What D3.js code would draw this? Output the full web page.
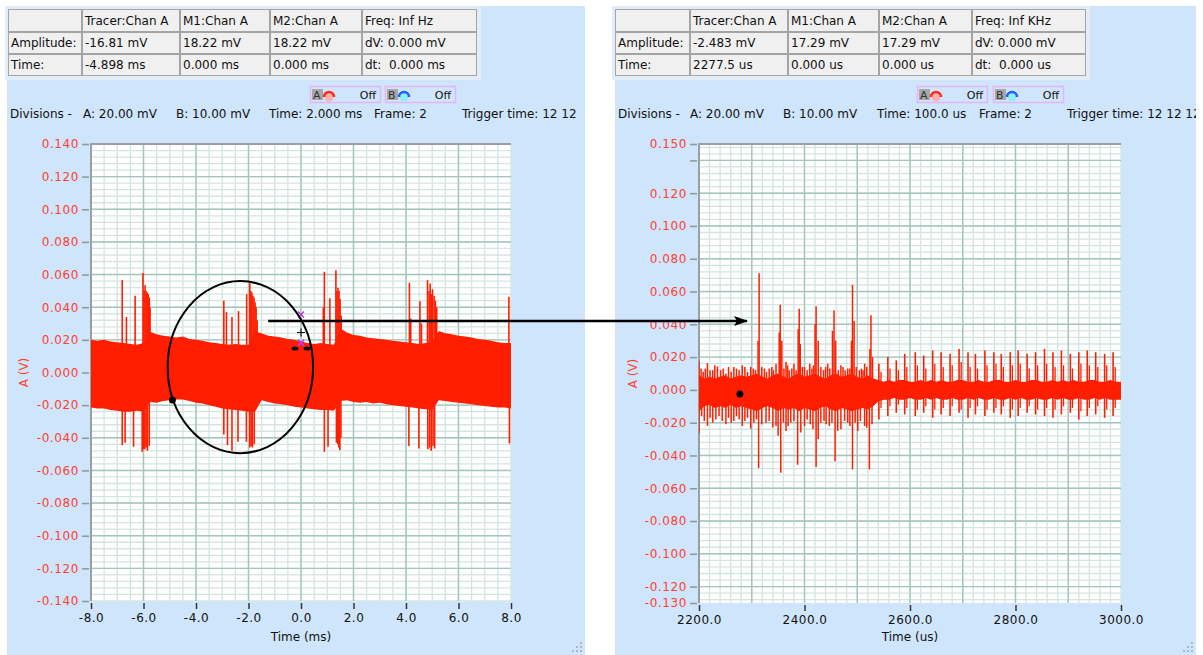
<!DOCTYPE html>
<html>
<head>
<meta charset="utf-8">
<script src="https://cdn.jsdelivr.net/npm/d3@7"></script>
<style>
  body { margin: 0; background: #ffffff; }
  text { font-family: "DejaVu Sans", Verdana, sans-serif; }
</style>
</head>
<body>
<svg id="chart" width="1203" height="655"></svg>
<script>

// left screen: envelope of the noise band, one value every 0.25 ms from -8 ms
var leftStart = -8, leftStep = 0.25;
var leftHi = [0.0200,0.0195,0.0200,0.0190,0.0185,0.0180,0.0175,0.0170,0.0180,0.0250,
              0.0235,0.0225,0.0220,0.0215,0.0220,0.0205,0.0200,0.0195,0.0185,0.0180,
              0.0175,0.0170,0.0175,0.0170,0.0170,0.0250,0.0240,0.0225,0.0220,0.0215,
              0.0205,0.0200,0.0190,0.0180,0.0175,0.0180,0.0175,0.0170,0.0270,0.0245,
              0.0230,0.0225,0.0215,0.0210,0.0205,0.0200,0.0195,0.0190,0.0185,0.0180,
              0.0175,0.0180,0.0190,0.0255,0.0240,0.0235,0.0225,0.0220,0.0215,0.0205,
              0.0200,0.0195,0.0185,0.0180,0.0180];
var leftLo = [-0.0215,-0.0220,-0.0220,-0.0230,-0.0235,-0.0240,-0.0240,-0.0235,-0.0240,-0.0180,
              -0.0185,-0.0175,-0.0170,-0.0165,-0.0165,-0.0175,-0.0185,-0.0190,-0.0200,-0.0210,
              -0.0220,-0.0225,-0.0230,-0.0235,-0.0240,-0.0240,-0.0170,-0.0180,-0.0190,-0.0195,
              -0.0200,-0.0210,-0.0215,-0.0220,-0.0225,-0.0230,-0.0230,-0.0235,-0.0175,-0.0170,
              -0.0180,-0.0185,-0.0180,-0.0190,-0.0185,-0.0195,-0.0200,-0.0205,-0.0210,-0.0215,
              -0.0220,-0.0225,-0.0230,-0.0170,-0.0175,-0.0180,-0.0185,-0.0190,-0.0195,-0.0200,
              -0.0205,-0.0210,-0.0215,-0.0215,-0.0220];

// left screen: spikes above and below the band (ms, V)
var leftUpT = [-6.81,-6.65,-6.32,-6.02,-5.98,-5.94,-5.90,-5.86,-5.82,-5.78,-5.75,
               -2.94,-2.84,-2.63,-2.38,-2.07,-1.95,-1.91,-1.87,-1.83,-1.79,-1.75,-1.71,-1.67,
               0.85,0.89,1.10,1.33,1.37,1.41,1.45,1.49,1.53,
               4.13,4.18,4.53,4.59,4.82,4.88,4.92,4.97,5.01,5.07,5.12,5.17,7.92];
var leftUpV = [0.0566,0.034,0.047,0.061,0.050,0.0535,0.050,0.049,0.048,0.046,0.040,
               0.044,0.037,0.034,0.0376,0.048,0.0547,0.050,0.049,0.047,0.046,0.043,0.040,0.032,
               0.040,0.0617,0.0455,0.0627,0.050,0.052,0.050,0.045,0.035,
               0.055,0.033,0.0437,0.030,0.0566,0.050,0.0545,0.048,0.051,0.047,0.044,0.040,0.0464];
var leftDnT = [-6.81,-6.70,-6.38,-6.05,-6.00,-5.95,-5.90,-5.85,-5.78,
               -2.94,-2.80,-2.63,-2.40,-2.08,-1.95,-1.90,-1.85,-1.78,
               0.89,1.03,1.35,1.40,1.44,1.48,1.52,
               4.11,4.49,4.83,4.90,4.96,5.03,5.09,7.94];
var leftDnV = [-0.0445,-0.043,-0.0455,-0.0486,-0.047,-0.047,-0.046,-0.048,-0.045,
               -0.038,-0.0445,-0.048,-0.0425,-0.0425,-0.046,-0.045,-0.046,-0.044,
               -0.0486,-0.0455,-0.043,-0.044,-0.046,-0.0476,-0.040,
               -0.045,-0.0466,-0.047,-0.046,-0.048,-0.045,-0.0466,-0.0435];

// right screen: envelope of the solid core, one value every 10 us from 2200 us
var rightStart = 2200, rightStep = 10;
var rightHi = [0.009,0.007,0.008,0.007,0.008,0.009,0.007,0.008,0.009,0.008,
               0.009,0.010,0.008,0.007,0.009,0.010,0.008,0.007,0.009,0.010,
               0.008,0.009,0.010,0.008,0.007,0.009,0.010,0.008,0.009,0.010,
               0.008,0.007,0.009,0.007,0.006,0.005,0.006,0.005,0.006,0.006,
               0.005,0.005,0.006,0.005,0.006,0.005,0.006,0.005,0.005,0.006,
               0.006,0.005,0.005,0.006,0.005,0.005,0.006,0.006,0.005,0.005,
               0.006,0.005,0.005,0.006,0.006,0.005,0.005,0.006,0.005,0.006,
               0.005,0.006,0.005,0.005,0.006,0.006,0.005,0.005,0.006,0.005,0.005];
var rightLo = [-0.013,-0.010,-0.009,-0.011,-0.010,-0.011,-0.009,-0.011,-0.010,-0.011,
               -0.012,-0.013,-0.011,-0.010,-0.011,-0.013,-0.011,-0.012,-0.011,-0.013,
               -0.011,-0.012,-0.013,-0.011,-0.010,-0.012,-0.013,-0.011,-0.012,-0.013,
               -0.012,-0.011,-0.012,-0.010,-0.007,-0.006,-0.006,-0.005,-0.006,-0.006,
               -0.005,-0.006,-0.006,-0.005,-0.006,-0.005,-0.006,-0.006,-0.005,-0.006,
               -0.006,-0.005,-0.006,-0.005,-0.006,-0.006,-0.005,-0.006,-0.006,-0.005,
               -0.006,-0.005,-0.006,-0.006,-0.005,-0.006,-0.006,-0.005,-0.006,-0.005,
               -0.006,-0.006,-0.005,-0.006,-0.006,-0.005,-0.006,-0.005,-0.006,-0.006,-0.006];

// right screen: individual spikes in the first burst (us, V)
var rightUpT = [2200,2204,2208,2212,2216,2221,2226,2230,2235,2241,2246,2251,2256,2261,2266,2271,2276,
                2282,2287,2292,2298,2303,2307,2312,2314,2319,2324,2328,2333,2338,2341,2346,
                2352,2354,2357,2361,2365,2368,2371,2376,2380,2384,2388,2390,2392,2396,2400,2405,
                2410,2414,2417,2420,2422,2426,2431,2436,2440,2444,2448,2453,2456,2459,2464,2469,
                2473,2477,2482,2486,2489,2491,2494,2498,2504,2508,2511,2514,2518,2524,2526,2529];
var rightUpV = [0.0174,0.013,0.011,0.013,0.0163,0.012,0.012,0.015,0.0143,0.012,0.013,0.010,0.014,0.011,0.014,0.013,0.012,
                0.015,0.014,0.011,0.014,0.013,0.012,0.030,0.0712,0.014,0.013,0.011,0.013,0.014,0.012,0.016,
                0.035,0.052,0.030,0.013,0.017,0.015,0.012,0.013,0.016,0.012,0.037,0.0495,0.028,0.014,0.014,0.012,
                0.016,0.013,0.015,0.040,0.051,0.030,0.014,0.012,0.014,0.016,0.013,0.036,0.0485,0.030,0.012,0.015,
                0.014,0.012,0.013,0.013,0.030,0.064,0.042,0.014,0.012,0.013,0.012,0.016,0.014,0.025,0.0456,0.020];
var rightDnT = [2200,2205,2210,2216,2221,2226,2232,2238,2244,2251,2256,2261,2266,2271,2276,2282,2287,2292,
                2298,2304,2309,2313,2319,2327,2333,2340,2346,2350,2355,2360,2365,2369,2374,2380,2387,
                2393,2400,2405,2411,2416,2422,2426,2431,2437,2441,2447,2452,2458,2463,2469,2476,2482,
                2486,2491,2496,2501,2506,2514,2518,2523,2528];
var rightDnV = [-0.0266,-0.016,-0.019,-0.022,-0.017,-0.020,-0.018,-0.016,-0.019,-0.021,-0.017,-0.020,-0.019,-0.016,-0.018,-0.022,-0.019,-0.017,
                -0.0236,-0.020,-0.018,-0.0477,-0.021,-0.020,-0.019,-0.023,-0.022,-0.028,-0.0506,-0.020,-0.025,-0.022,-0.020,-0.019,-0.0457,
                -0.026,-0.022,-0.018,-0.021,-0.024,-0.047,-0.030,-0.020,-0.019,-0.021,-0.022,-0.020,-0.0436,-0.025,-0.024,-0.019,-0.020,
                -0.022,-0.0485,-0.020,-0.025,-0.019,-0.022,-0.023,-0.0485,-0.021];

// right screen: the regular pulse train after the burst (us, V)
var rightPulseT  = [2541,2558,2574,2590,2610,2626,2643,2659,2676,2693,2710,2724,2742,2759,
                    2773,2790,2805,2822,2838,2855,2871,2887,2904,2920,2936,2952,2969,2985];
var rightPulseHi = [0.016,0.020,0.018,0.022,0.023,0.021,0.024,0.023,0.022,0.025,0.023,0.022,0.024,0.023,
                    0.022,0.023,0.024,0.022,0.023,0.025,0.023,0.024,0.022,0.023,0.024,0.023,0.022,0.023];
var rightPulseLo = [-0.018,-0.016,-0.014,-0.015,-0.016,-0.014,-0.017,-0.015,-0.016,-0.014,-0.017,-0.015,-0.016,-0.014,
                    -0.015,-0.017,-0.016,-0.014,-0.015,-0.016,-0.017,-0.015,-0.014,-0.018,-0.016,-0.015,-0.017,-0.016];
var rightSubT  = [2545,2562,2578,2594,2614,2630,2647,2663,2680,2697,2714,2728,2746,2763,
                  2777,2794,2809,2826,2842,2859,2875,2891,2908,2924,2940,2956,2973,2989];
var rightSubHi = [0.011,0.013,0.012,0.014,0.015,0.013,0.016,0.014,0.015,0.017,0.014,0.013,0.015,0.016,
                  0.014,0.015,0.016,0.013,0.015,0.016,0.014,0.015,0.013,0.016,0.015,0.014,0.015,0.014];
var rightSubLo = [-0.011,-0.010,-0.009,-0.011,-0.012,-0.010,-0.012,-0.011,-0.010,-0.012,-0.011,-0.010,-0.012,-0.011,
                  -0.010,-0.012,-0.011,-0.010,-0.012,-0.011,-0.012,-0.010,-0.011,-0.013,-0.011,-0.010,-0.012,-0.011];

// tick values
var leftXTicks = [-8, -6, -4, -2, 0, 2, 4, 6, 8];
var leftYTicks = [0.14, 0.12, 0.10, 0.08, 0.06, 0.04, 0.02, 0, -0.02, -0.04, -0.06, -0.08, -0.10, -0.12, -0.14];
var rightXTicks = [2200, 2400, 2600, 2800, 3000];
var rightYTicks = [0.15, 0.14, 0.12, 0.10, 0.08, 0.06, 0.04, 0.02, 0, -0.02, -0.04, -0.06, -0.08, -0.10, -0.12, -0.13];

// read-out tables
var leftTable = [["", "Tracer:Chan A", "M1:Chan A", "M2:Chan A", "Freq: Inf Hz"],
                 ["Amplitude:", "-16.81 mV", "18.22 mV", "18.22 mV", "dV: 0.000 mV"],
                 ["Time:", "-4.898 ms", "0.000 ms", "0.000 ms", "dt:  0.000 ms"]];
var rightTable = [["", "Tracer:Chan A", "M1:Chan A", "M2:Chan A", "Freq: Inf KHz"],
                  ["Amplitude:", "-2.483 mV", "17.29 mV", "17.29 mV", "dV: 0.000 mV"],
                  ["Time:", "2277.5 us", "0.000 us", "0.000 us", "dt:  0.000 us"]];
var leftInfo = ["Divisions -", "A: 20.00 mV", "B: 10.00 mV", "Time: 2.000 ms", "Frame: 2", "Trigger time: 12 12"];
var rightInfo = ["Divisions -", "A: 20.00 mV", "B: 10.00 mV", "Time: 100.0 us", "Frame: 2", "Trigger time: 12 12 12"];

// tracer points
var leftTracer = { t: -4.898, v: -0.01681 };
var rightTracer = { t: 2277.5, v: -0.002483 };

// ---------- drawing ----------
var svg = d3.select("#chart");
var panelBlue = "#cfe5fb";
var traceRed = "#ff1e00";
var labelRed = "#ff4030";

var defs = svg.append("defs");

function fmt3(d) {
	if (Math.abs(d) < 1e-9) return "0.000";
	return d.toFixed(3);
}

function drawPanel(p) {
	// panel background
	svg.append("rect")
		.attr("x", p.px).attr("y", 6)
		.attr("width", p.pw).attr("height", 649)
		.attr("fill", panelBlue);

	// clip for the panel text (trigger time is cut off)
	defs.append("clipPath").attr("id", "panel" + p.id)
		.append("rect").attr("x", p.px).attr("y", 0).attr("width", p.pw).attr("height", 655);

	var x = d3.scaleLinear().domain(p.xDomain).range([p.left, p.right]);
	var y = d3.scaleLinear().domain(p.yDomain).range([p.bottom, p.top]);

	// table frame
	var tx = p.tableX, ty = 9;
	var colW = p.colW, rowH = [23, 22, 22];
	var tw = d3.sum(colW), th = d3.sum(rowH);
	svg.append("rect")
		.attr("x", tx - 3).attr("y", ty - 3)
		.attr("width", tw + 7).attr("height", th + 7)
		.attr("fill", "#e2edf8");
	var tbl = svg.append("g");
	var cx = 0;
	colW.forEach(function(w, ci) {
		var cy = 0;
		rowH.forEach(function(h, ri) {
			tbl.append("rect")
				.attr("x", tx + cx + 0.5).attr("y", ty + cy + 0.5)
				.attr("width", w - 1).attr("height", h - 1)
				.attr("fill", "#f0f0f0")
				.attr("stroke", "#a4a4a4")
				.attr("stroke-width", 1);
			tbl.append("text")
				.attr("x", tx + cx + 3)
				.attr("y", ty + cy + h / 2 + 4)
				.style("white-space", "pre")
				.attr("font-size", "12px")
				.attr("fill", "#111")
				.text(p.table[ri][ci]);
			cy += h;
		});
		cx += w;
	});

	// channel legend boxes
	[["A", "#ff2a1a", "#ffb0b0"], ["B", "#2a5cff", "#8ff0f0"]].forEach(function(c, i) {
		var bx = p.legendX[i], by = 86;
		var lg = svg.append("g");
		lg.append("rect").attr("x", bx + 0.5).attr("y", by + 0.5)
			.attr("width", 70).attr("height", 16)
			.attr("fill", "none").attr("stroke", "#e6b4f6").attr("stroke-width", 1.5);
		lg.append("rect").attr("x", bx + 2).attr("y", by + 3)
			.attr("width", 11).attr("height", 11).attr("fill", "#a8a8a8");
		lg.append("text").attr("x", bx + 3).attr("y", by + 13)
			.attr("font-size", "11px").attr("fill", "#333").text(c[0]);
		lg.append("circle").attr("cx", bx + 19).attr("cy", by + 11).attr("r", 4.5)
			.attr("fill", c[2]);
		lg.append("path")
			.attr("d", "M" + (bx + 14) + "," + (by + 11) + " A5,5 0 0 1 " + (bx + 24) + "," + (by + 11))
			.attr("fill", "none").attr("stroke", c[1]).attr("stroke-width", 2.5);
		lg.append("text").attr("x", bx + 66).attr("y", by + 13)
			.attr("text-anchor", "end")
			.attr("font-size", "11px").attr("fill", "#111").text("Off");
	});

	// divisions line
	var info = svg.append("g").attr("clip-path", "url(#panel" + p.id + ")");
	p.info.forEach(function(s, i) {
		info.append("text")
			.attr("x", p.infoX[i]).attr("y", 118)
			.attr("font-size", "12px")
			.attr("fill", "#111")
			.text(s);
	});

	// plot area
	svg.append("rect")
		.attr("x", p.left).attr("y", p.top)
		.attr("width", p.right - p.left).attr("height", p.bottom - p.top)
		.attr("fill", "#ffffff");

	var grid = svg.append("g");
	grid.selectAll(".vmin").data(p.xMinor).enter().append("line")
		.attr("x1", function(d) { return x(d); }).attr("x2", function(d) { return x(d); })
		.attr("y1", p.top).attr("y2", p.bottom)
		.attr("stroke", "#d3e5e1").attr("stroke-width", 1.3);
	grid.selectAll(".hmin").data(p.yMinor).enter().append("line")
		.attr("y1", function(d) { return y(d); }).attr("y2", function(d) { return y(d); })
		.attr("x1", p.left).attr("x2", p.right)
		.attr("stroke", "#d3e5e1").attr("stroke-width", 1.3);
	grid.selectAll(".vmaj").data(p.xMajor).enter().append("line")
		.attr("x1", function(d) { return x(d); }).attr("x2", function(d) { return x(d); })
		.attr("y1", p.top).attr("y2", p.bottom)
		.attr("stroke", "#a3c5bd").attr("stroke-width", 1.4);
	grid.selectAll(".hmaj").data(p.yMajor).enter().append("line")
		.attr("y1", function(d) { return y(d); }).attr("y2", function(d) { return y(d); })
		.attr("x1", p.left).attr("x2", p.right)
		.attr("stroke", "#a3c5bd").attr("stroke-width", 1.4);

	// plot border (top and left)
	svg.append("path")
		.attr("d", "M" + p.left + "," + p.bottom + " L" + p.left + "," + p.top + " L" + p.right + "," + p.top)
		.attr("fill", "none").attr("stroke", "#9a9ea2").attr("stroke-width", 2);

	// axes
	var yAxis = d3.axisLeft(y)
		.tickValues(p.yTicks)
		.tickSize(7)
		.tickPadding(3)
		.tickFormat(function(d) { return p.yLabelSkip.indexOf(d) >= 0 ? "" : fmt3(d); });
	var ya = svg.append("g")
		.attr("transform", "translate(" + (p.left - 2) + ",0)")
		.call(yAxis);
	ya.select(".domain").remove();
	ya.selectAll("line").attr("stroke", "#8a9a98").attr("stroke-width", 1.5);
	ya.selectAll("text")
		.attr("fill", labelRed)
		.style("font-size", "12px")
		.style("letter-spacing", "0.6px")
		.style("font-family", "DejaVu Sans, Verdana, sans-serif");

	var xAxis = d3.axisBottom(x)
		.tickValues(p.xTicks)
		.tickSize(6)
		.tickPadding(4)
		.tickFormat(function(d) { return d.toFixed(1); });
	var xa = svg.append("g")
		.attr("transform", "translate(0," + (p.bottom + 2) + ")")
		.call(xAxis);
	xa.select(".domain").remove();
	xa.selectAll("line").attr("stroke", "#333").attr("stroke-width", 1.5);
	xa.selectAll("text")
		.attr("fill", "#111")
		.style("font-size", "12px")
		.style("letter-spacing", "0.5px")
		.style("font-family", "DejaVu Sans, Verdana, sans-serif");

	// axis titles
	svg.append("text")
		.attr("transform", "translate(" + p.yTitleX + "," + ((p.top + p.bottom) / 2) + ") rotate(-90)")
		.attr("text-anchor", "middle")
		.attr("font-size", "12px")
		.attr("fill", labelRed)
		.text("A (V)");
	svg.append("text")
		.attr("x", (p.left + p.right) / 2).attr("y", 641)
		.attr("text-anchor", "middle")
		.attr("font-size", "12px")
		.attr("fill", "#111")
		.text(p.xTitle);

	// resize grip
	var grip = [[3, 3], [7, 3], [11, 3], [3, 7], [7, 7], [3, 11]];
	svg.append("g").selectAll("rect").data(grip).enter().append("rect")
		.attr("x", function(d) { return p.px + p.pw - d[0] - 2; })
		.attr("y", function(d) { return 655 - d[1] - 2; })
		.attr("width", 2).attr("height", 2)
		.attr("fill", "#a9b8c6");

	// clip for signal
	defs.append("clipPath").attr("id", "plot" + p.id)
		.append("rect").attr("x", p.left).attr("y", p.top)
		.attr("width", p.right - p.left).attr("height", p.bottom - p.top);

	return { x: x, y: y };
}

// ----- left panel -----
var L = drawPanel({
	id: "L", px: 7, pw: 578,
	left: 91, right: 511, top: 144, bottom: 601,
	xDomain: [-8, 8], yDomain: [-0.14, 0.14],
	xMinor: d3.range(-8, 8.001, 0.5), xMajor: [-6, -4, -2, 0, 2, 4, 6],
	yMinor: d3.range(-0.14, 0.1401, 0.004), yMajor: d3.range(-0.12, 0.1201, 0.02),
	xTicks: leftXTicks, yTicks: leftYTicks, yLabelSkip: [],
	tableX: 8, colW: [74, 98, 90, 92, 115], table: leftTable,
	legendX: [310, 385],
	info: leftInfo, infoX: [10, 83, 176, 269, 374, 462],
	yTitleX: 28, xTitle: "Time (ms)"
});

// ----- right panel -----
var R = drawPanel({
	id: "R", px: 615, pw: 581,
	left: 699, right: 1121, top: 144, bottom: 603,
	xDomain: [2200, 3000], yDomain: [-0.13, 0.15],
	xMinor: d3.range(2200, 3000.1, 20), xMajor: d3.range(2300, 2901, 100),
	yMinor: d3.range(-0.128, 0.1501, 0.004), yMajor: d3.range(-0.12, 0.1401, 0.02),
	xTicks: rightXTicks, yTicks: rightYTicks, yLabelSkip: [0.14],
	tableX: 615, colW: [75, 98, 91, 93, 114], table: rightTable,
	legendX: [917, 993],
	info: rightInfo, infoX: [618, 690, 783, 877, 979, 1067],
	yTitleX: 637, xTitle: "Time (us)"
});

// ----- left signal -----
var gL = svg.append("g").attr("clip-path", "url(#plotL)");
var areaL = d3.area()
	.x(function(d, i) { return L.x(leftStart + i * leftStep); })
	.y0(function(d, i) { return L.y(leftLo[i]); })
	.y1(function(d, i) { return L.y(leftHi[i]); });
gL.append("path").datum(leftHi).attr("d", areaL).attr("fill", traceRed);
gL.selectAll(".up").data(leftUpT).enter().append("line")
	.attr("x1", function(d) { return L.x(d); }).attr("x2", function(d) { return L.x(d); })
	.attr("y1", L.y(0)).attr("y2", function(d, i) { return L.y(leftUpV[i]); })
	.attr("stroke", traceRed).attr("stroke-width", 1.6);
gL.selectAll(".dn").data(leftDnT).enter().append("line")
	.attr("x1", function(d) { return L.x(d); }).attr("x2", function(d) { return L.x(d); })
	.attr("y1", L.y(0)).attr("y2", function(d, i) { return L.y(leftDnV[i]); })
	.attr("stroke", traceRed).attr("stroke-width", 1.6);

// ----- right signal -----
var gR = svg.append("g").attr("clip-path", "url(#plotR)");
var areaR = d3.area()
	.x(function(d, i) { return R.x(rightStart + i * rightStep); })
	.y0(function(d, i) { return R.y(rightLo[i]); })
	.y1(function(d, i) { return R.y(rightHi[i]); });
gR.append("path").datum(rightHi).attr("d", areaR).attr("fill", traceRed);
gR.selectAll(".up").data(rightUpT).enter().append("line")
	.attr("x1", function(d) { return R.x(d); }).attr("x2", function(d) { return R.x(d); })
	.attr("y1", R.y(0)).attr("y2", function(d, i) { return R.y(rightUpV[i]); })
	.attr("stroke", traceRed).attr("stroke-width", 1.5);
gR.selectAll(".dn").data(rightDnT).enter().append("line")
	.attr("x1", function(d) { return R.x(d); }).attr("x2", function(d) { return R.x(d); })
	.attr("y1", R.y(0)).attr("y2", function(d, i) { return R.y(rightDnV[i]); })
	.attr("stroke", traceRed).attr("stroke-width", 1.5);
gR.selectAll(".pulse").data(rightPulseT).enter().append("line")
	.attr("x1", function(d) { return R.x(d); }).attr("x2", function(d) { return R.x(d); })
	.attr("y1", function(d, i) { return R.y(rightPulseLo[i]); })
	.attr("y2", function(d, i) { return R.y(rightPulseHi[i]); })
	.attr("stroke", traceRed).attr("stroke-width", 1.6);
gR.selectAll(".sub").data(rightSubT).enter().append("line")
	.attr("x1", function(d) { return R.x(d); }).attr("x2", function(d) { return R.x(d); })
	.attr("y1", function(d, i) { return R.y(rightSubLo[i]); })
	.attr("y2", function(d, i) { return R.y(rightSubHi[i]); })
	.attr("stroke", traceRed).attr("stroke-width", 1.3);

// ----- annotations -----
// cursors around t = 0 on the left screen
var cur = svg.append("g");
var c0 = L.x(0);
cur.append("path")
	.attr("d", "M" + (c0 - 3) + "," + (L.y(0.0355) - 3) + " l6,6 m0,-6 l-6,6")
	.attr("stroke", "#c03ce0").attr("stroke-width", 1.5);
cur.append("path")
	.attr("d", "M" + (c0 - 4) + "," + L.y(0.0245) + " h8 M" + c0 + "," + (L.y(0.0245) - 4) + " v8")
	.attr("stroke", "#111").attr("stroke-width", 1.2);
cur.append("path")
	.attr("d", "M" + (c0 - 3) + "," + (L.y(0.0182) - 3) + " l6,6 m0,-6 l-6,6")
	.attr("stroke", "#c03ce0").attr("stroke-width", 1.8);
[-0.23, 0.23].forEach(function(t) {
	cur.append("ellipse")
		.attr("cx", L.x(t)).attr("cy", L.y(0.0147))
		.attr("rx", 3.5).attr("ry", 2)
		.attr("fill", "#111");
});

// tracer dots
svg.append("circle").attr("cx", L.x(leftTracer.t)).attr("cy", L.y(leftTracer.v))
	.attr("r", 3.5).attr("fill", "#000");
svg.append("circle").attr("cx", R.x(rightTracer.t)).attr("cy", R.y(rightTracer.v))
	.attr("r", 3.5).attr("fill", "#000");

// ellipse around the burst
var ecx = -2.31, ecy = 0.0033, erx = 2.77, ery = 0.0527;
svg.append("ellipse")
	.attr("cx", L.x(ecx)).attr("cy", L.y(ecy))
	.attr("rx", L.x(ecx + erx) - L.x(ecx))
	.attr("ry", L.y(ecy) - L.y(ecy + ery))
	.attr("fill", "none").attr("stroke", "#000").attr("stroke-width", 2);

// arrow from the left burst to the zoomed screen
defs.append("marker")
	.attr("id", "head").attr("viewBox", "0 -6 14 12")
	.attr("refX", 13).attr("refY", 0)
	.attr("markerWidth", 14).attr("markerHeight", 12)
	.attr("markerUnits", "userSpaceOnUse")
	.attr("orient", "auto")
	.append("path").attr("d", "M0,-5 L14,0 L0,5 L3,0 Z").attr("fill", "#000");
svg.append("line")
	.attr("x1", L.x(-1.25)).attr("y1", L.y(0.0315))
	.attr("x2", R.x(2291)).attr("y2", L.y(0.0315))
	.attr("stroke", "#000").attr("stroke-width", 2.5)
	.attr("marker-end", "url(#head)");
</script>
</body>
</html>
